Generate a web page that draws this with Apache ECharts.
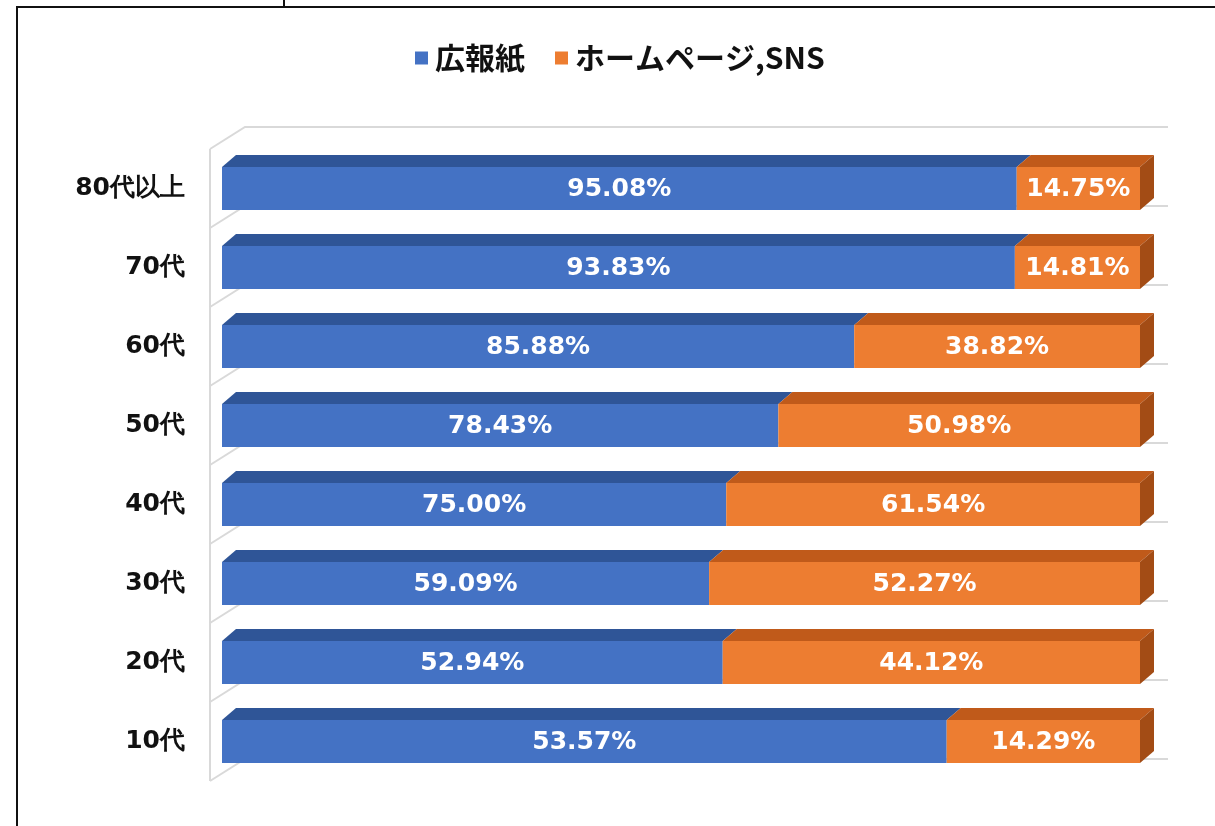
<!DOCTYPE html>
<html><head><meta charset="utf-8">
<script src="https://cdn.jsdelivr.net/npm/echarts@6/dist/echarts.min.js"></script>
<style>html,body{margin:0;padding:0;background:#fff}#c{width:1215px;height:826px}</style>
</head><body><div id="c"></div>
<script>
const categories = ['80代以上','70代','60代','50代','40代','30代','20代','10代'];
const seriesNames = ['広報紙','ホームページ,SNS'];
const kohoshi = [95.08, 93.83, 85.88, 78.43, 75.00, 59.09, 52.94, 53.57];
const homepage = [14.75, 14.81, 38.82, 50.98, 61.54, 52.27, 44.12, 14.29];

const FRONT = ['#4472C4', '#ED7D31'];
const TOPC = ['#2F5597', '#C05A1A'];
const SIDEC = ['#2A4A85', '#A34C15'];
const DX = 14, DY = 12, BAR_H = 43;

function buildData(k) {
  return categories.map((c, i) => {
    const tot = kohoshi[i] + homepage[i];
    const bs = kohoshi[i] / tot * 100;
    return k === 0 ? [0, bs, i, kohoshi[i]] : [bs, 100, i, homepage[i]];
  });
}

function barRender(k) {
  return function (params, api) {
    const idx = api.value(2);
    const a = api.coord([api.value(0), idx]);
    const b = api.coord([api.value(1), idx]);
    const cy = a[1];
    const t = cy - BAR_H / 2, btm = cy + BAR_H / 2;
    const x0 = a[0], x1 = b[0];
    const children = [
      { type: 'polygon', shape: { points: [[x0, t], [x0 + DX, t - DY], [x1 + DX, t - DY], [x1, t]] }, style: { fill: TOPC[k] } },
      { type: 'rect', shape: { x: x0, y: t, width: x1 - x0, height: BAR_H }, style: { fill: FRONT[k] } }
    ];
    if (k === 1) {
      children.push({ type: 'polygon', shape: { points: [[x1, t], [x1 + DX, t - DY], [x1 + DX, btm - DY], [x1, btm]] }, style: { fill: SIDEC[k] } });
    }
    children.push({ type: 'text', style: { text: api.value(3).toFixed(2) + '%', x: (x0 + x1) / 2, y: cy + 1, align: 'center', verticalAlign: 'middle', fill: '#ffffff', fontFamily: 'DejaVu Sans', fontWeight: 'bold', fontSize: 25 } });
    return { type: 'group', children };
  };
}

function wallRender(params, api) {
  const idx = api.value(0);
  const c = api.coord([0, idx]);
  const r = api.coord([100, idx]);
  const band = api.size([0, 1])[1];
  const wx = c[0] - 12;
  const ls = { stroke: '#d9d9d9', lineWidth: 2 };
  const children = [];
  const edges = [c[1] - band / 2];
  if (idx === categories.length - 1) edges.push(c[1] + band / 2);
  edges.forEach(e => {
    children.push({ type: 'polyline', shape: { points: [[wx, e], [wx + 35, e - 22], [r[0] + 28, e - 22]] }, style: Object.assign({ fill: null }, ls) });
  });
  children.push({ type: 'line', shape: { x1: wx, y1: c[1] - band / 2, x2: wx, y2: c[1] + band / 2 }, style: ls });
  return { type: 'group', children };
}

const chart = echarts.init(document.getElementById('c'), null, { renderer: 'canvas' });
chart.setOption({
  backgroundColor: '#ffffff',
  animation: false,
  legend: {
    left: 410, top: 38,
    itemWidth: 13, itemHeight: 13, itemGap: 30,
    icon: 'rect',
    data: seriesNames,
    textStyle: { fontSize: 30, fontWeight: 'bold', color: '#111', fontFamily: 'Noto Sans CJK JP', padding: [0, 0, 0, 2] }
  },
  grid: { left: 222, right: 75, top: 149, bottom: 45 },
  xAxis: { type: 'value', min: 0, max: 100, show: false },
  yAxis: {
    type: 'category', data: categories, inverse: true,
    axisLine: { show: false }, axisTick: { show: false }, splitLine: { show: false },
    axisLabel: { margin: 37, fontSize: 25, fontWeight: 'bold', color: '#111', fontFamily: 'DejaVu Sans' }
  },
  graphic: [
    { type: 'polyline', shape: { points: [[17, 826], [17, 7], [1215, 7]] }, style: { stroke: '#111', lineWidth: 2, fill: null } },
    { type: 'line', shape: { x1: 284, y1: 0, x2: 284, y2: 7 }, style: { stroke: '#111', lineWidth: 2 } }
  ],
  series: [
    { type: 'custom', name: 'wall', z: 1, silent: true, renderItem: wallRender, data: categories.map((c, i) => [i]), encode: { y: 0 }, clip: false },
    { type: 'custom', name: seriesNames[0], z: 2, itemStyle: { color: FRONT[0] }, renderItem: barRender(0), data: buildData(0), encode: { x: [0, 1], y: 2 }, clip: false },
    { type: 'custom', name: seriesNames[1], z: 3, itemStyle: { color: FRONT[1] }, renderItem: barRender(1), data: buildData(1), encode: { x: [0, 1], y: 2 }, clip: false }
  ]
});
</script></body></html>
